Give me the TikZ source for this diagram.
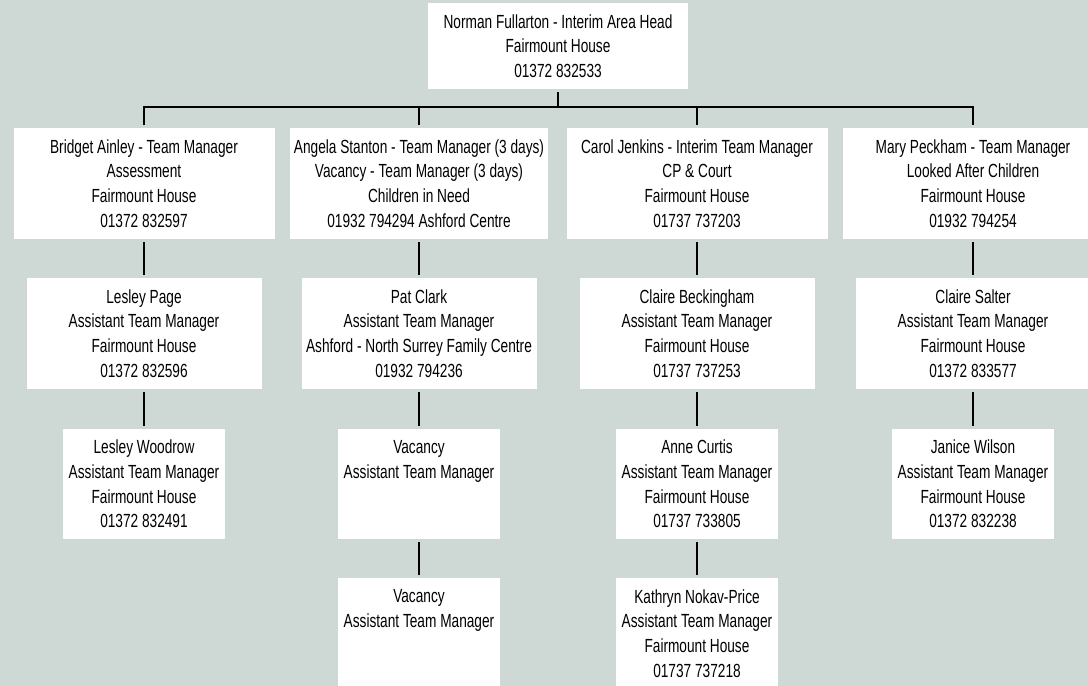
\documentclass[tikz,border=0pt]{standalone}
\usepackage{fontspec}
\newfontfamily\orgfont{Liberation Sans}[FakeStretch=0.72]
\usetikzlibrary{calc,positioning}
\definecolor{bgcol}{RGB}{206,216,213}

\tikzset{
  orgbox/.style={fill=white, align=center, inner sep=0pt, outer xsep=0pt, outer ysep=3pt,
                 font=\orgfont\fontsize{19}{24.7}\selectfont},
  headbox/.style={orgbox, minimum width=260pt, minimum height=86pt},
  tmbox/.style={orgbox, minimum width=261pt, minimum height=111pt},
  atmbox/.style={orgbox, minimum width=235pt, minimum height=111pt},
  subbox/.style={orgbox, minimum width=162pt, minimum height=110pt},
  link/.style={line width=1.8pt, black}
}

\begin{document}
\begin{tikzpicture}[x=1pt,y=-1pt]

\useasboundingbox (0,0) rectangle (1088,686);
\clip (0,0) rectangle (1088,686);
\fill[bgcol] (0,0) rectangle (1088,686);

% columns of the four teams
\def\colA{144}
\def\colB{419}
\def\colC{697}
\def\colD{973}
\def\rowA{183.5}
\def\rowB{333.5}
\def\rowC{484}
\def\rowD{633.5}

\node[headbox] (head) at (558,46) {Norman Fullarton - Interim Area Head\\Fairmount House\\01372 832533};

% team managers
\node[tmbox] (bridget) at (\colA,\rowA) {Bridget Ainley - Team Manager\\Assessment\\Fairmount House\\01372 832597};
\node[tmbox, minimum width=258pt] (angela) at (\colB,\rowA) {Angela Stanton - Team Manager (3 days)\\Vacancy - Team Manager (3 days)\\Children in Need\\01932 794294 Ashford Centre};
\node[tmbox] (carol) at (\colC,\rowA) {Carol Jenkins - Interim Team Manager\\CP \& Court\\Fairmount House\\01737 737203};
\node[tmbox] (mary) at (\colD,\rowA) {Mary Peckham - Team Manager\\Looked After Children\\Fairmount House\\01932 794254};

% assistant team managers
\node[atmbox] (lesleyp) at (\colA,\rowB) {Lesley Page\\Assistant Team Manager\\Fairmount House\\01372 832596};
\node[atmbox] (patclark) at (\colB,\rowB) {Pat Clark\\Assistant Team Manager\\Ashford - North Surrey Family Centre\\01932 794236};
\node[atmbox] (claireb) at (\colC,\rowB) {Claire Beckingham\\Assistant Team Manager\\Fairmount House\\01737 737253};
\node[atmbox] (claires) at (\colD,\rowB) {Claire Salter\\Assistant Team Manager\\Fairmount House\\01372 833577};

\node[subbox] (lesleyw) at (\colA,\rowC) {Lesley Woodrow\\Assistant Team Manager\\Fairmount House\\01372 832491};
\node[subbox] (vacA) at (\colB,\rowC) {Vacancy\\Assistant Team Manager\\~\\~};
\node[subbox] (anne) at (\colC,\rowC) {Anne Curtis\\Assistant Team Manager\\Fairmount House\\01737 733805};
\node[subbox] (janice) at (\colD,\rowC) {Janice Wilson\\Assistant Team Manager\\Fairmount House\\01372 832238};

\node[subbox, minimum height=111pt] (vacB) at (\colB,\rowD) {Vacancy\\Assistant Team Manager\\~\\~};
\node[subbox, minimum height=111pt] (kathryn) at (\colC,\rowD) {Kathryn Nokav-Price\\Assistant Team Manager\\Fairmount House\\01737 737218};

% the bus below the area head
\coordinate (bus) at (558,107);
\draw[link] (head.south) -- (head.south |- bus);
\draw[link] (bridget.north) |- (bus) -| (mary.north);
\foreach \t in {angela,carol}
  \draw[link] (\t.north) -- (\t.north |- bus);

% down each team
\foreach \a/\b in {bridget/lesleyp, lesleyp/lesleyw,
                   angela/patclark, patclark/vacA, vacA/vacB,
                   carol/claireb, claireb/anne, anne/kathryn,
                   mary/claires, claires/janice}
  \draw[link] (\a.south) -- (\b.north);

\end{tikzpicture}
\end{document}
